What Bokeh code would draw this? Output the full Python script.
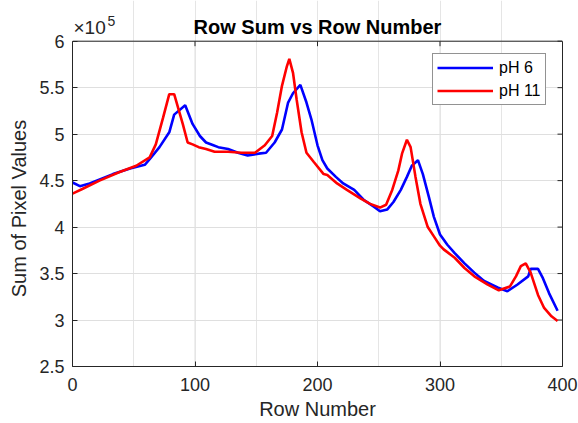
import math
from bokeh.plotting import figure
from bokeh.models import (Range1d, LinearAxis, FixedTicker, CustomJSTickFormatter,
                          Label, Legend, LegendItem, Grid, Span)
from bokeh.embed import file_html
from bokeh.resources import INLINE

# ---- data (sums in units of 1e5) ----
ROW_PH6 = [0, 6, 14, 33, 47, 59, 63, 71, 79, 83, 92, 98, 104, 109, 115, 119, 127, 135, 143, 152,
           158, 165, 171, 176, 180, 186, 191, 195, 200, 204, 208, 215, 221, 230, 238, 246, 251, 257, 262, 268,
           273, 277, 282, 286, 291, 295, 300, 306, 312, 320, 328, 336, 347, 355, 363, 372, 374, 380, 384, 389,
           396]
SUM_PH6 = [4.48, 4.44, 4.47, 4.57, 4.63, 4.67, 4.73, 4.86, 5.02, 5.21, 5.31, 5.11, 4.98, 4.91, 4.88, 4.86, 4.84, 4.80, 4.77, 4.79,
           4.80, 4.91, 5.05, 5.34, 5.44, 5.53, 5.34, 5.16, 4.88, 4.72, 4.63, 4.54, 4.47, 4.40, 4.29, 4.22, 4.17, 4.19, 4.27, 4.40,
           4.54, 4.66, 4.72, 4.57, 4.32, 4.11, 3.92, 3.81, 3.72, 3.61, 3.51, 3.42, 3.35, 3.31, 3.38, 3.47, 3.55, 3.55, 3.45, 3.29,
           3.10]
ROW_PH11 = [0, 8, 22, 38, 52, 63, 68, 74, 79, 83, 90, 94, 98, 103, 109, 116, 127, 138, 149, 157,
            163, 167, 171, 175, 177, 180, 183, 187, 191, 197, 205, 208, 216, 224, 235, 243, 251, 256, 261, 266,
            269, 273, 276, 280, 284, 290, 295, 300, 303, 312, 320, 328, 339, 348, 357, 362, 366, 370, 374, 380,
            385, 391, 396]
SUM_PH11 = [4.36, 4.41, 4.50, 4.59, 4.66, 4.75, 4.89, 5.18, 5.43, 5.43, 5.11, 4.91, 4.89, 4.86, 4.84, 4.81, 4.81, 4.80, 4.80, 4.88,
            4.98, 5.23, 5.52, 5.73, 5.81, 5.66, 5.37, 5.02, 4.80, 4.70, 4.57, 4.56, 4.47, 4.40, 4.31, 4.25, 4.21, 4.24, 4.40, 4.61,
            4.79, 4.94, 4.86, 4.54, 4.25, 4.00, 3.90, 3.80, 3.76, 3.67, 3.56, 3.47, 3.38, 3.32, 3.36, 3.47, 3.58, 3.61, 3.51, 3.27,
            3.13, 3.04, 2.99]
X_MIN, X_MAX = 0, 400
Y_MIN, Y_MAX = 2.5, 6
X_TICKS = [0, 100, 200, 300, 400]
Y_TICKS = [2.5, 3, 3.5, 4, 4.5, 5, 5.5, 6]
TITLE = "Row Sum vs Row Number"
X_LABEL = "Row Number"
Y_LABEL = "Sum of Pixel Values"
EXP_BASE = "\u00d710"
EXP_POWER = "5"
SERIES_NAMES = ["pH 6", "pH 11"]

FONT = "Liberation Sans"
TXT = "#262626"
AX = "#262626"
GRID = "#dfdfdf"

# ---- layout (pixels) ----
W, H = 578, 423
B_LEFT, B_RIGHT, B_BOTTOM = 72, 16, 57
AXES_TOP = 40.7            # pixel row of the top of the axes box
FRAME_H = H - B_BOTTOM      # frame runs from the canvas top to the x axis
BOX_H = FRAME_H - AXES_TOP
y_end = Y_MIN + (Y_MAX - Y_MIN) * FRAME_H / BOX_H   # room above the box for title / exponent

# the y label is centred on the whole frame; pad its top end so it centres on the box
pad = "\u00a0" * 9

p = figure(width=W, height=H, output_backend="svg", toolbar_location=None,
           x_range=Range1d(X_MIN, X_MAX), y_range=Range1d(Y_MIN, y_end),
           min_border_left=B_LEFT, min_border_right=B_RIGHT, min_border_top=0,
           min_border_bottom=B_BOTTOM, x_axis_location=None, y_axis_location=None)
p.outline_line_color = None
p.background_fill_color = "white"
p.border_fill_color = "white"

xt = FixedTicker(ticks=X_TICKS)
yt = FixedTicker(ticks=Y_TICKS)
fmt = CustomJSTickFormatter(code="return tick.toString();")


def style_axis(ax):
    ax.axis_line_color = AX
    ax.axis_line_width = 1
    ax.major_tick_line_color = AX
    ax.major_tick_in = 5
    ax.major_tick_out = 0
    ax.minor_tick_line_color = None
    ax.major_label_text_font = FONT
    ax.major_label_text_color = TXT
    ax.major_label_text_font_size = "18px"
    ax.axis_label_text_font = FONT
    ax.axis_label_text_color = TXT
    ax.axis_label_text_font_size = "20px"
    ax.axis_label_text_font_style = "normal"
    return ax


bx = style_axis(LinearAxis(ticker=xt, formatter=fmt, axis_label=X_LABEL))
bx.major_label_standoff = 11
bx.axis_label_standoff = 4
lx = style_axis(LinearAxis(ticker=yt, formatter=fmt, axis_label=Y_LABEL + pad, bounds=(Y_MIN, Y_MAX)))
lx.major_label_standoff = 8
lx.axis_label_standoff = 6
rx = LinearAxis(ticker=FixedTicker(ticks=[]), bounds=(Y_MIN, Y_MAX))
rx.axis_line_color = AX
rx.major_tick_out = 0
rx.major_tick_in = 0
rx.minor_tick_line_color = None
p.add_layout(bx, "below")
p.add_layout(lx, "left")
p.add_layout(rx, "right")
p.add_layout(Span(location=Y_MAX, dimension="width", line_color=AX, line_width=1))

# grid
p.add_layout(Grid(dimension=1, ticker=yt, grid_line_color=GRID, grid_line_width=1))
p.segment(x0=X_TICKS, y0=[Y_MIN] * len(X_TICKS), x1=X_TICKS, y1=[Y_MAX] * len(X_TICKS),
          line_color=GRID, line_width=1, level="underlay")

# inward ticks on top and right edges of the box
p.ray(x=X_TICKS, y=[Y_MAX] * len(X_TICKS), length=5, length_units="screen",
      angle=-math.pi / 2, line_color=AX, line_width=1)
p.ray(x=[X_MAX] * len(Y_TICKS), y=Y_TICKS, length=5, length_units="screen",
      angle=math.pi, line_color=AX, line_width=1)

r6 = p.line(ROW_PH6, SUM_PH6, line_color="#0000ff", line_width=2.6)
r11 = p.line(ROW_PH11, SUM_PH11, line_color="#ff0000", line_width=2.6)

legend = Legend(items=[LegendItem(label=SERIES_NAMES[0], renderers=[r6]),
                       LegendItem(label=SERIES_NAMES[1], renderers=[r11])],
                location=(360, 261))
legend.margin = 0
legend.padding = 4
legend.spacing = 4
legend.glyph_width = 56
legend.glyph_height = 19
legend.label_height = 19
legend.label_standoff = 6
legend.label_text_font = FONT
legend.label_text_font_size = "16px"
legend.label_text_color = "black"
legend.border_line_color = "#262626"
legend.border_line_width = 1
legend.background_fill_color = "white"
legend.background_fill_alpha = 1
p.add_layout(legend)

# title and exponent, placed in the band above the box
base_y = FRAME_H
p.add_layout(Label(x=(X_MIN + X_MAX) / 2, y=base_y - 26, x_units="data", y_units="screen",
                   text=TITLE, text_align="center", text_baseline="alphabetic",
                   text_font=FONT, text_font_size="20px", text_font_style="bold", text_color="black"))
p.add_layout(Label(x=1, y=base_y - 27, x_units="screen", y_units="screen",
                   text=EXP_BASE, text_align="left", text_baseline="alphabetic",
                   text_font=FONT, text_font_size="19px", text_color=TXT))
p.add_layout(Label(x=35, y=base_y - 20, x_units="screen", y_units="screen",
                   text=EXP_POWER, text_align="left", text_baseline="alphabetic",
                   text_font=FONT, text_font_size="14px", text_color=TXT))

open("out.html", "w").write(file_html(p, INLINE))
